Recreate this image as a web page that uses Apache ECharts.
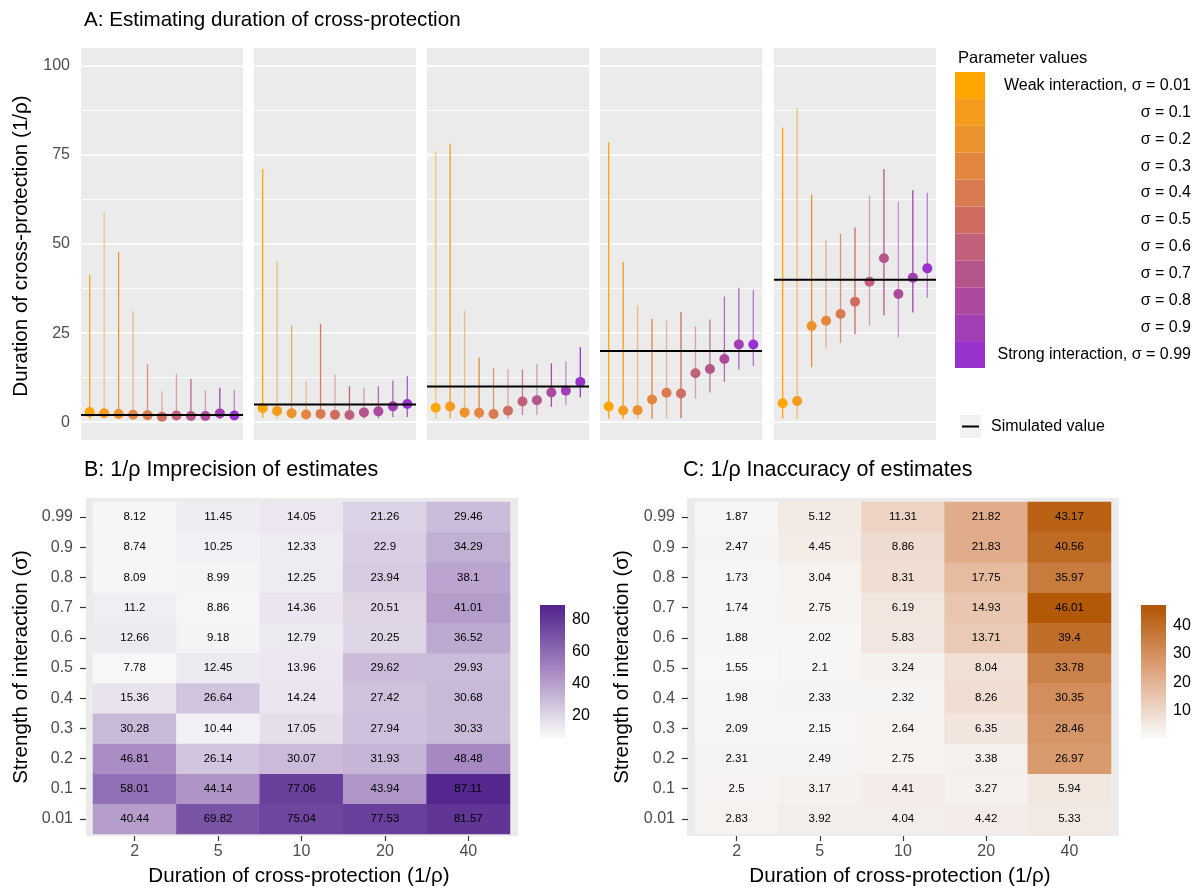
<!DOCTYPE html>
<html><head><meta charset="utf-8">
<script src="https://cdn.jsdelivr.net/npm/echarts@6/dist/echarts.min.js"></script>
<style>html,body{margin:0;padding:0;background:#fff}#c{width:1201px;height:888px}</style>
</head><body><div id="c"></div>
<script>
// ---------------- DATA ----------------
const durations = ['2', '5', '10', '20', '40'];
const simulatedValues = [2, 5, 10, 20, 40];
const sigmaLevels = ['0.01', '0.1', '0.2', '0.3', '0.4', '0.5', '0.6', '0.7', '0.8', '0.9', '0.99'];
const sigmaLegendLabels = ['Weak interaction, σ = 0.01', 'σ = 0.1', 'σ = 0.2', 'σ = 0.3', 'σ = 0.4', 'σ = 0.5',
  'σ = 0.6', 'σ = 0.7', 'σ = 0.8', 'σ = 0.9', 'Strong interaction, σ = 0.99'];

// Point estimates of 1/rho (panel C values), sigma 0.01 -> 0.99
const estimate_d2  = [2.83, 2.5, 2.31, 2.09, 1.98, 1.55, 1.88, 1.74, 1.73, 2.47, 1.87];
const estimate_d5  = [3.92, 3.17, 2.49, 2.15, 2.33, 2.1, 2.02, 2.75, 3.04, 4.45, 5.12];
const estimate_d10 = [4.04, 4.41, 2.75, 2.64, 2.32, 3.24, 5.83, 6.19, 8.31, 8.86, 11.31];
const estimate_d20 = [4.42, 3.27, 3.38, 6.35, 8.26, 8.04, 13.71, 14.93, 17.75, 21.83, 21.82];
const estimate_d40 = [5.33, 5.94, 26.97, 28.46, 30.35, 33.78, 39.4, 46.01, 35.97, 40.56, 43.17];

// Width of the credible interval (panel B values), sigma 0.01 -> 0.99
const imprecision_d2  = [40.44, 58.01, 46.81, 30.28, 15.36, 7.78, 12.66, 11.2, 8.09, 8.74, 8.12];
const imprecision_d5  = [69.82, 44.14, 26.14, 10.44, 26.64, 12.45, 9.18, 8.86, 8.99, 10.25, 11.45];
const imprecision_d10 = [75.04, 77.06, 30.07, 17.05, 14.24, 13.96, 12.79, 14.36, 12.25, 12.33, 14.05];
const imprecision_d20 = [77.53, 43.94, 31.93, 27.94, 27.42, 29.62, 20.25, 20.51, 23.94, 22.9, 21.26];
const imprecision_d40 = [81.57, 87.11, 48.48, 30.33, 30.68, 29.93, 36.52, 41.01, 38.1, 34.29, 29.46];

// Lower end of the credible interval
const lower_d2  = [0.9, 0.9, 0.9, 0.9, 0.9, 0.9, 0.9, 0.9, 0.8, 0.9, 0.9];
const lower_d5  = [1.2, 1.0, 1.0, 1.0, 1.0, 0.9, 0.9, 0.9, 1.1, 1.45, 1.45];
const lower_d10 = [1.0, 1.1, 1.1, 1.0, 1.0, 0.9, 2.0, 2.0, 4.3, 4.75, 7.0];
const lower_d20 = [1.0, 1.0, 0.9, 1.0, 1.1, 1.2, 6.6, 8.3, 11.3, 14.8, 15.75];
const lower_d40 = [1.1, 1.0, 15.4, 20.7, 22.2, 24.7, 27.0, 30.0, 23.8, 30.8, 34.9];

// Interval line transparency (panel A)
const alpha_d2  = [1, 0.5, 1, 0.5, 0.8, 0.5, 0.55, 0.9, 0.5, 1, 0.55];
const alpha_d5  = [1, 0.6, 0.75, 0.5, 1, 0.5, 1, 0.55, 0.8, 0.8, 0.8];
const alpha_d10 = [0.55, 1, 0.55, 1, 0.75, 0.55, 0.8, 0.55, 1, 0.55, 1];
const alpha_d20 = [1, 1, 0.55, 1, 0.5, 1, 0.55, 0.8, 0.8, 0.8, 0.65];
const alpha_d40 = [1, 0.6, 1, 0.6, 0.8, 1, 0.55, 1, 0.55, 1, 0.6];

// ---------------- STYLE ----------------
const sigmaColors = ['#FFA500', '#F59B1E', '#EC922C', '#E38640', '#D97A50', '#CE6C5F',
  '#C1607A', '#B5568A', '#AD4AA0', '#A23FB5', '#9932CC'];
const purpleScale = ['#F7F7F7', '#A88BC3', '#54278F'];
const orangeScale = ['#F7F7F7', '#DFA580', '#B35806'];
const FONT = '"Liberation Sans", Arial, Helvetica, sans-serif';

const estimates = [estimate_d2, estimate_d5, estimate_d10, estimate_d20, estimate_d40];
const widths = [imprecision_d2, imprecision_d5, imprecision_d10, imprecision_d20, imprecision_d40];
const lowers = [lower_d2, lower_d5, lower_d10, lower_d20, lower_d40];
const alphas = [alpha_d2, alpha_d5, alpha_d10, alpha_d20, alpha_d40];

const grids = [], xAxes = [], yAxes = [], series = [], visualMaps = [], graphics = [];
function addGrid(g, xa, ya) {
  grids.push(Object.assign({ containLabel: false, show: false, borderWidth: 0 }, g));
  const gi = grids.length - 1;
  xAxes.push(Object.assign({ gridIndex: gi }, xa));
  yAxes.push(Object.assign({ gridIndex: gi }, ya));
  return { gi: gi, xi: xAxes.length - 1, yi: yAxes.length - 1 };
}
const hiddenAxis = () => ({ type: 'value', show: false, min: 0, max: 1, splitLine: { show: false } });

// ---------------- PANEL A ----------------
const panelLeft = [81, 254, 427, 600, 774];
panelLeft.forEach((L, p) => {
  addGrid({ left: L, top: 48, width: 162, height: 392, show: true, backgroundColor: '#EBEBEB' }, hiddenAxis(), hiddenAxis());
  const g = addGrid({ left: L, top: 65.8, width: 162, height: 356.4 },
    { type: 'value', min: -0.6, max: 10.6, show: false, splitLine: { show: false } },
    { type: 'value', min: 0, max: 100, interval: 25,
      axisLine: { show: false }, axisTick: { show: false },
      axisLabel: { show: p === 0, color: '#4D4D4D', fontSize: 16, margin: 11, fontFamily: FONT },
      splitLine: { show: true, lineStyle: { color: '#FFFFFF', width: 1.6 } },
      minorTick: { show: false, splitNumber: 2 },
      minorSplitLine: { show: true, lineStyle: { color: '#FFFFFF', width: 0.8 } } });
  series.push({
    type: 'custom', xAxisIndex: g.xi, yAxisIndex: g.yi, z: 2, silent: true,
    data: sigmaLevels.map((s, i) => [i, lowers[p][i], lowers[p][i] + widths[p][i], alphas[p][i]]),
    encode: { x: 0, y: [1, 2] },
    renderItem: (params, api) => {
      const i = api.value(0);
      const a = api.coord([i, api.value(1)]);
      const b = api.coord([i, api.value(2)]);
      return { type: 'line', shape: { x1: a[0], y1: a[1], x2: b[0], y2: b[1] },
        style: { stroke: sigmaColors[i], lineWidth: 1.3, opacity: api.value(3) } };
    }
  });
  series.push({
    type: 'scatter', xAxisIndex: g.xi, yAxisIndex: g.yi, z: 3, symbolSize: 10, silent: true,
    data: estimates[p].map((v, i) => [i, v]),
    itemStyle: { opacity: 1, color: (d) => sigmaColors[d.dataIndex] }
  });
  series.push({
    type: 'line', xAxisIndex: g.xi, yAxisIndex: g.yi, z: 4, symbol: 'none', silent: true,
    data: [[-0.6, simulatedValues[p]], [10.6, simulatedValues[p]]],
    lineStyle: { color: '#000000', width: 2 }
  });
});

// legend for panel A
const lg = addGrid({ left: 955, top: 72, width: 30, height: 296 },
  { type: 'value', min: 0, max: 1, show: false, splitLine: { show: false } },
  { type: 'category', data: sigmaLegendLabels, inverse: true, position: 'right',
    axisLine: { show: false }, axisTick: { show: false },
    axisLabel: { align: 'right', margin: 206, fontSize: 16, color: '#000', fontFamily: FONT } });
series.push({ type: 'bar', xAxisIndex: lg.xi, yAxisIndex: lg.yi, barWidth: '100%', silent: true,
  data: sigmaLevels.map((s, i) => ({ value: 1, itemStyle: { color: sigmaColors[i] } })) });

// ---------------- HEATMAPS ----------------
function heatmapPanel(bg, tiles, cols, scale, cb) {
  addGrid(Object.assign({ show: true, backgroundColor: '#EBEBEB' }, bg), hiddenAxis(), hiddenAxis());
  const g = addGrid(tiles,
    { type: 'category', data: durations, offset: 2,
      axisLine: { show: false },
      axisTick: { show: true, alignWithLabel: true, length: 5, lineStyle: { color: '#333333', width: 1.2 } },
      axisLabel: { fontSize: 16, color: '#4D4D4D', margin: 8, fontFamily: FONT },
      splitLine: { show: false } },
    { type: 'category', data: sigmaLevels, offset: 7,
      axisLine: { show: false },
      axisTick: { show: true, alignWithLabel: true, length: 6, lineStyle: { color: '#333333', width: 1.2 } },
      axisLabel: { fontSize: 16, color: '#4D4D4D', margin: 13, fontFamily: FONT },
      splitLine: { show: false } });
  const data = [];
  cols.forEach((col, xi) => col.forEach((v, yi) => data.push([xi, yi, v])));
  const all = data.map(d => d[2]);
  const vmin = Math.min(...all), vmax = Math.max(...all);
  series.push({ type: 'heatmap', xAxisIndex: g.xi, yAxisIndex: g.yi, data: data, silent: true,
    label: { show: true, fontSize: 11.5, color: '#000', fontFamily: FONT, formatter: (q) => String(q.value[2]) },
    itemStyle: { borderWidth: 0 }, emphasis: { disabled: true } });
  visualMaps.push({ type: 'continuous', show: false, seriesIndex: series.length - 1, dimension: 2,
    min: vmin, max: vmax, inRange: { color: scale } });
  // colour bar
  const pad = (vmax - vmin) / 38;
  const lo = vmin - pad, hi = vmax + pad;
  const c = addGrid(cb.grid, { type: 'value', min: 0, max: 1, show: false, splitLine: { show: false } },
    { type: 'value', min: lo, max: hi, position: 'right',
      axisLine: { show: false }, splitLine: { show: false },
      axisTick: { show: true, inside: true, length: 5, lineStyle: { color: '#FFFFFF', width: 1 } },
      axisLabel: { fontSize: 16, color: '#000', margin: 7, fontFamily: FONT, showMinLabel: false, showMaxLabel: false,
        formatter: (v) => (Math.abs(v - Math.round(v / cb.step) * cb.step) < 1e-6 ? String(Math.round(v)) : '') } });
  // left-side ticks of the colour bar
  yAxes.push({ gridIndex: c.gi, type: 'value', min: lo, max: hi, position: 'left',
    axisLine: { show: false }, splitLine: { show: false }, axisLabel: { show: false },
    axisTick: { show: true, inside: true, length: 5, lineStyle: { color: '#FFFFFF', width: 1 } } });
  const f = pad / (hi - lo);
  series.push({ type: 'custom', xAxisIndex: c.xi, yAxisIndex: c.yi, z: 1, silent: true,
    data: [[0, lo, hi]], encode: { x: 0, y: [1, 2] },
    renderItem: (params, api) => {
      const a = api.coord([0, api.value(1)]);
      const b = api.coord([1, api.value(2)]);
      return { type: 'rect', shape: { x: a[0], y: b[1], width: b[0] - a[0], height: a[1] - b[1] },
        style: { fill: new echarts.graphic.LinearGradient(0, 1, 0, 0, [
          { offset: 0, color: scale[0] }, { offset: f, color: scale[0] },
          { offset: 0.5, color: scale[1] },
          { offset: 1 - f, color: scale[2] }, { offset: 1, color: scale[2] }]) } };
    } });
}

heatmapPanel({ left: 86, top: 498, width: 432, height: 338 }, { left: 93, top: 502, width: 417, height: 332 },
  widths, purpleScale, { grid: { left: 540, top: 605, width: 25, height: 133 }, step: 20 });
heatmapPanel({ left: 687, top: 498, width: 432, height: 338 }, { left: 695, top: 502, width: 416, height: 332 },
  estimates, orangeScale, { grid: { left: 1141, top: 605, width: 25, height: 133 }, step: 10 });

// ---------------- TEXT ----------------
function txt(text, x, y, size, opts) {
  graphics.push(Object.assign({ type: 'text', x: x, y: y, silent: true,
    style: Object.assign({ text: text, fontSize: size, fontFamily: FONT, fill: '#000',
      textAlign: 'left', textVerticalAlign: 'middle' }, (opts && opts.style) || {}) },
    opts && opts.rotation ? { rotation: opts.rotation } : {}));
}
txt('A: Estimating duration of cross-protection', 84, 20, 20.6);
txt('Duration of cross-protection (1/ρ)', 21, 246, 20.6, { rotation: Math.PI / 2, style: { textAlign: 'center' } });
txt('Parameter values', 958, 58, 16.5);
txt('B: 1/ρ Imprecision of estimates', 84, 470, 21.5);
txt('C: 1/ρ Inaccuracy of estimates', 683, 470, 21.5);
txt('Duration of cross-protection (1/ρ)', 299, 876, 20.6, { style: { textAlign: 'center' } });
txt('Duration of cross-protection (1/ρ)', 900, 876, 20.6, { style: { textAlign: 'center' } });
txt('Strength of interaction (σ)', 21, 667, 20.6, { rotation: Math.PI / 2, style: { textAlign: 'center' } });
txt('Strength of interaction (σ)', 622, 667, 20.6, { rotation: Math.PI / 2, style: { textAlign: 'center' } });
graphics.push({ type: 'rect', silent: true, shape: { x: 960, y: 415, width: 21, height: 23 }, style: { fill: '#F2F2F2' } });
graphics.push({ type: 'line', silent: true, shape: { x1: 962, y1: 426.5, x2: 979, y2: 426.5 }, style: { stroke: '#000', lineWidth: 2 } });
txt('Simulated value', 991, 427, 16);

const chart = echarts.init(document.getElementById('c'));
chart.setOption({
  animation: false,
  backgroundColor: '#FFFFFF',
  textStyle: { fontFamily: FONT },
  grid: grids, xAxis: xAxes, yAxis: yAxes, series: series, visualMap: visualMaps,
  graphic: { elements: graphics }
});
</script></body></html>
